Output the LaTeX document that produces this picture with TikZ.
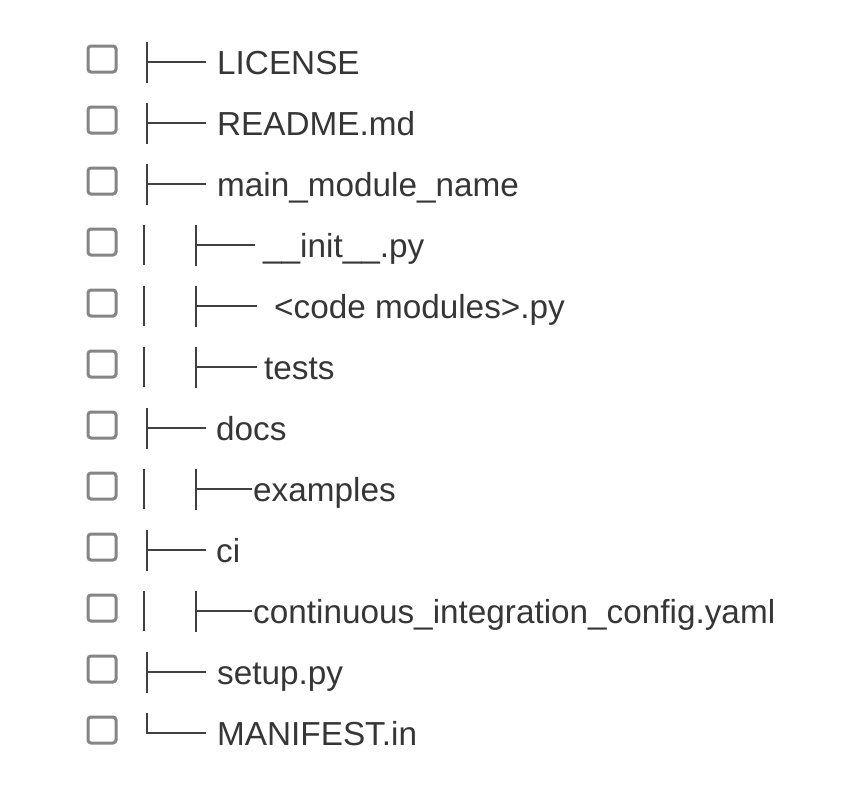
\documentclass[tikz,border=0pt]{standalone}
\usepackage{fontspec}
\setmainfont{Liberation Sans}
\usetikzlibrary{positioning}
\definecolor{ink}{HTML}{363636}
\definecolor{linegray}{HTML}{404040}
\definecolor{boxgray}{HTML}{858585}
\tikzset{
	chkbox/.style={draw=boxgray,line width=3pt,rounded corners=3pt,minimum width=28pt,minimum height=26pt,inner sep=0pt},
	entry/.style={anchor=base west,inner sep=0pt,text=ink,font=\fontsize{33.3}{40}\selectfont},
	tree/.style={draw=linegray,line width=2.7pt},
	tee/.pic={\draw[tree] (0,-20) -- (0,21) (0,0) -- (#1,0);},
	elbow/.pic={\draw[tree] (0,-20) -- (0,0) -- (#1,0);},
	pipe/.pic={\draw[tree] (0,-20) -- (0,20);},
}

\begin{document}
\begin{tikzpicture}[x=1pt,y=-1pt]
	\path[use as bounding box,fill=white] (0,0) rectangle (868,790);
	% checkboxes
	\node[chkbox] at (102,59) (b1) {};
	\node[chkbox] at (102,120) (b2) {};
	\node[chkbox] at (102,181) (b3) {};
	\node[chkbox] at (102,242) (b4) {};
	\node[chkbox] at (102,303) (b5) {};
	\node[chkbox] at (102,364) (b6) {};
	\node[chkbox] at (102,425) (b7) {};
	\node[chkbox] at (102,486) (b8) {};
	\node[chkbox] at (102,547) (b9) {};
	\node[chkbox] at (102,608) (b10) {};
	\node[chkbox] at (102,669) (b11) {};
	\node[chkbox] at (102,730) (b12) {};
	% tree glyphs
	\pic at (147,62) {tee=59};
	\pic at (147,123) {tee=59};
	\pic at (147,184) {tee=59};
	\pic at (144,245) {pipe};
	\pic at (196,245) {tee=59};
	\pic at (144,306) {pipe};
	\pic at (196,306) {tee=61};
	\pic at (144,367) {pipe};
	\pic at (196,367) {tee=61};
	\pic at (147,428) {tee=59};
	\pic at (144,489) {pipe};
	\pic at (196,489) {tee=56};
	\pic at (147,550) {tee=59};
	\pic at (144,611) {pipe};
	\pic at (196,611) {tee=56};
	\pic at (147,672) {tee=59};
	\pic at (147,733) {elbow=59};
	% entries
	\node[entry] at (217,74) (license) {LICENSE};
	\node[entry] at (217,135) (readme) {README.md};
	\node[entry] at (217,196) (mainmod) {main\_module\_name};
	\node[entry] at (263,257) (init) {\_\_init\_\_.py};
	\node[entry] at (274,318) (codemod) {<code modules>.py};
	\node[entry] at (264,379) (tests) {tests};
	\node[entry] at (216,440) (docs) {docs};
	\node[entry] at (253,501) (examples) {examples};
	\node[entry] at (216,562) (ci) {ci};
	\node[entry] at (253,623) (ciconf) {continuous\_integration\_config.yaml};
	\node[entry] at (217,684) (setup) {setup.py};
	\node[entry] at (217,745) (manifest) {MANIFEST.in};
\end{tikzpicture}
\end{document}
